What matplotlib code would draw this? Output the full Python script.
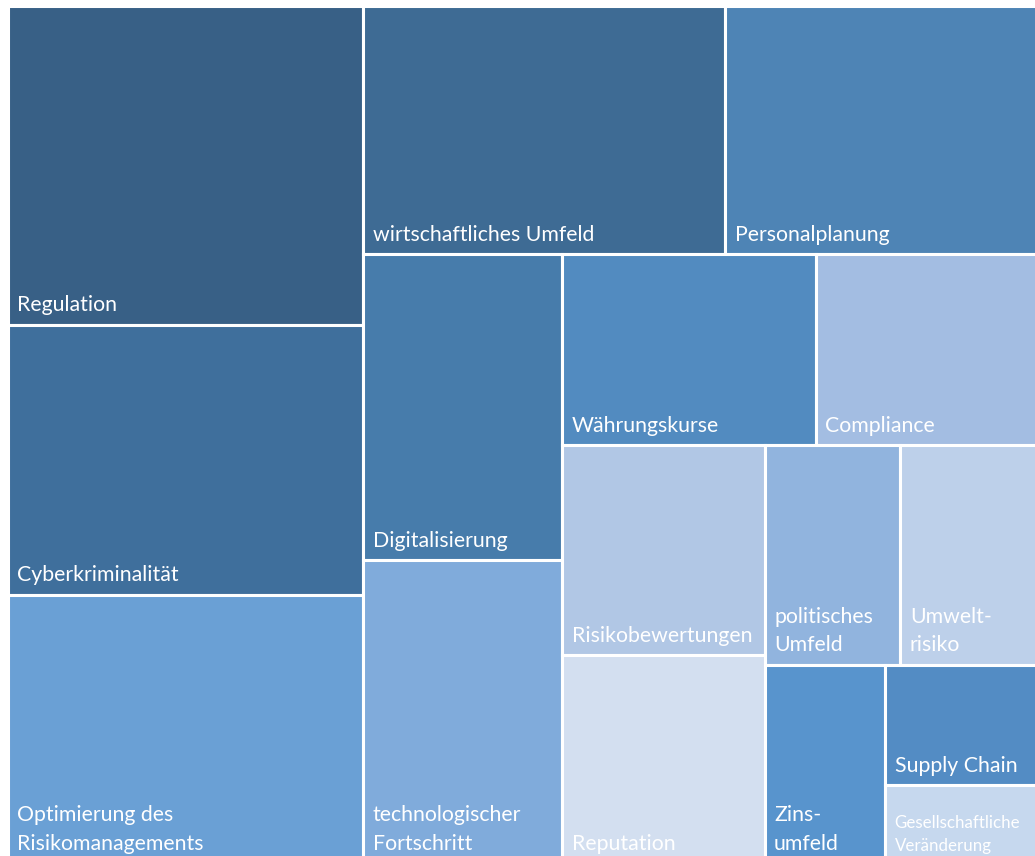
import matplotlib.pyplot as plt
from matplotlib.patches import Rectangle

plt.rcParams['font.family'] = ['Lato', 'DejaVu Sans']

# Risikothemen und ihr Gewicht (Anteil in %)
labels = [
    'Regulation', 'Cyberkriminalität', 'Optimierung des\nRisikomanagements',
    'wirtschaftliches Umfeld', 'Personalplanung',
    'Digitalisierung', 'technologischer\nFortschritt',
    'Währungskurse', 'Compliance',
    'Risikobewertungen', 'Reputation',
    'politisches\nUmfeld', 'Umwelt-\nrisiko',
    'Zins-\numfeld', 'Supply Chain', 'Gesellschaftliche\nVeränderung',
]
values = [12.86, 10.87, 10.81, 10.18, 8.80, 6.88, 6.83, 5.47, 4.79,
          4.80, 4.76, 3.38, 3.42, 2.71, 2.08, 1.35]
colors = [
    '#386086', '#3f6f9c', '#6aa0d5', '#3e6b94', '#4e84b5',
    '#477cab', '#80abdb', '#528bc0', '#a3bde2', '#b1c7e5',
    '#d3dff0', '#91b4de', '#bdd0ea', '#5894cd', '#538cc4', '#c6d8ee',
]
# number of tiles in each strip, laid out along the shorter side
strip_sizes = [3, 2, 2, 2, 2, 2, 1, 1, 1]


def layout_strips(values, strips, x, y, w, h):
    """Strip-wise treemap: each strip fills the current shorter side."""
    scale = w * h / sum(values)
    rects = []
    i = 0
    for n in strips:
        group = values[i:i + n]
        area = sum(group) * scale
        if w >= h:
            sw = area / h
            yy = y
            for v in group:
                ch = v * scale / sw
                rects.append((x, yy, sw, ch))
                yy += ch
            x += sw
            w -= sw
        else:
            sh = area / w
            xx = x
            for v in group:
                cw = v * scale / sh
                rects.append((xx, y, cw, sh))
                xx += cw
            y += sh
            h -= sh
        i += n
    return rects


W, H = 1035, 856
fig = plt.figure(figsize=(W / 100, H / 100), dpi=100)
ax = fig.add_axes([0, 0, 1, 1])
ax.set_xlim(0, W)
ax.set_ylim(H, 0)
ax.axis('off')

rects = layout_strips(values, strip_sizes, 7.5, 5.5, 1030.5, 858)

small = {'Gesellschaftliche\nVeränderung': 12.2}

for (x, y, w, h), lab, c in zip(rects, labels, colors):
    ax.add_patch(Rectangle((x, y), w, h, facecolor=c, edgecolor='white',
                           linewidth=2.2))
    ax.text(x + 9.5, y + h - 9.5, lab, ha='left', va='bottom',
            color='white', fontsize=small.get(lab, 15.3), linespacing=1.55)

fig.savefig('out.png', dpi=100)
